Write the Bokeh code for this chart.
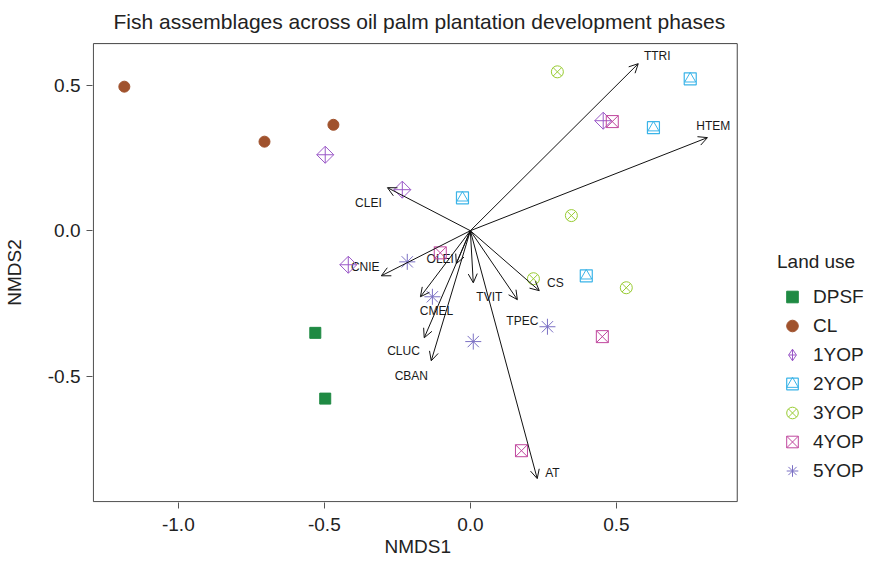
import math
from bokeh.plotting import figure
from bokeh.models import (ColumnDataSource, Arrow, OpenHead, Legend, LegendItem,
                          FixedTicker, Range1d, Title)
from bokeh.core.properties import value
from bokeh.embed import file_html
from bokeh.resources import INLINE

# ---------------- data ----------------
land_use = ["DPSF", "CL", "1YOP", "2YOP", "3YOP", "4YOP", "5YOP"]

dpsf_x = [-0.531, -0.497]
dpsf_y = [-0.351, -0.577]
cl_x = [-1.185, -0.705, -0.469]
cl_y = [0.495, 0.306, 0.364]
yop1_x = [-0.497, -0.233, -0.418, 0.455]
yop1_y = [0.261, 0.141, -0.117, 0.378]
yop2_x = [-0.027, 0.753, 0.627, 0.397]
yop2_y = [0.113, 0.522, 0.354, -0.155]
yop3_x = [0.298, 0.346, 0.216, 0.534]
yop3_y = [0.546, 0.052, -0.165, -0.196]
yop4_x = [0.486, -0.103, 0.452, 0.175]
yop4_y = [0.375, -0.076, -0.364, -0.756]
yop5_x = [-0.216, -0.130, 0.010, 0.264]
yop5_y = [-0.107, -0.227, -0.381, -0.330]

species = ["TTRI", "HTEM", "CLEI", "CNIE", "OLEI", "CMEL", "CLUC", "CBAN",
           "TVIT", "TPEC", "CS", "AT"]
vec_x = [0.575, 0.812, -0.284, -0.305, -0.048, -0.171, -0.158, -0.134,
         0.010, 0.161, 0.236, 0.229]
vec_y = [0.574, 0.320, 0.148, -0.155, -0.113, -0.227, -0.368, -0.447,
         -0.179, -0.237, -0.206, -0.852]
lab_x = [0.640, 0.832, -0.349, -0.360, -0.103, -0.116, -0.229, -0.202,
         0.065, 0.178, 0.291, 0.281]
lab_y = [0.601, 0.361, 0.096, -0.124, -0.096, -0.275, -0.412, -0.498,
         -0.227, -0.309, -0.179, -0.832]

x_ticks = [-1.0, -0.5, 0.0, 0.5]
x_tick_labels = ["-1.0", "-0.5", "0.0", "0.5"]
y_ticks = [-0.5, 0.0, 0.5]
y_tick_labels = ["-0.5", "0.0", "0.5"]

# plotting-region limits (the box drawn around the ordination)
box_x = (-1.291, 0.914)
box_y = (-0.931, 0.643)

# ---------------- styles ----------------
FONT = "Liberation Sans"
colors = {
    "DPSF": "#1f8a43",
    "CL": "#a0522d",
    "1YOP": "#9b59c8",
    "2YOP": "#3bb4e8",
    "3YOP": "#99cc33",
    "4YOP": "#c0479e",
    "5YOP": "#7b70c4",
}

# the frame extends to the right so that the legend can sit beside the box
p = figure(width=870, height=562,
           x_range=Range1d(-1.294, 1.3635), y_range=Range1d(-0.934, 0.6468),
           output_backend="svg", toolbar_location=None,
           min_border_left=92, min_border_right=2,
           min_border_top=42, min_border_bottom=60,
           title="Fish assemblages across oil palm plantation development phases",
           y_axis_label="NMDS2")

p.title.text_font = FONT
p.title.text_font_size = "21px"
p.title.text_font_style = "normal"
p.title.text_color = "#222222"
p.title.align = "left"
p.title.offset = 21
p.title.vertical_align = "top"
p.title.standoff = 16

p.xgrid.visible = False
p.ygrid.visible = False
p.outline_line_color = None
p.background_fill_color = "white"
p.border_fill_color = "white"

p.xaxis.ticker = FixedTicker(ticks=x_ticks)
p.xaxis.major_label_overrides = dict(zip(x_ticks, x_tick_labels))
p.yaxis.ticker = FixedTicker(ticks=y_ticks)
p.yaxis.major_label_overrides = dict(zip(y_ticks, y_tick_labels))
p.xaxis.bounds = box_x
p.yaxis.bounds = box_y

for ax in (p.xaxis[0], p.yaxis[0]):
    ax.axis_line_color = None
    ax.major_tick_out = 6
    ax.major_tick_in = 0
    ax.major_tick_line_color = "#555555"
    ax.minor_tick_line_color = None
    ax.major_label_text_font = FONT
    ax.major_label_text_font_size = "19px"
    ax.major_label_text_color = "#222222"
    ax.axis_label_text_font = FONT
    ax.axis_label_text_font_size = "19px"
    ax.axis_label_text_font_style = "normal"
    ax.axis_label_text_color = "#222222"

p.xaxis.major_label_standoff = 9
p.yaxis.major_label_standoff = 6
p.yaxis.axis_label_standoff = 20

# x-axis title, centred under the box (not under the wider frame)
x_title = Title(text="NMDS1", text_font=FONT, text_font_size="19px",
                text_font_style="normal", text_color="#222222",
                align="left", offset=292, vertical_align="bottom", standoff=0)
p.add_layout(x_title, "below")

# box around the ordination region
p.quad(left=[box_x[0]], right=[box_x[1]], bottom=[box_y[0]], top=[box_y[1]],
       fill_color=None, line_color="#444444", line_width=1)

# ---------------- envfit arrows ----------------
arrow_src = ColumnDataSource(dict(x0=[0.0] * len(species), y0=[0.0] * len(species),
                                  x1=vec_x, y1=vec_y))
p.add_layout(Arrow(end=OpenHead(size=9, line_width=1, line_color="#111111"),
                   x_start="x0", y_start="y0", x_end="x1", y_end="y1",
                   source=arrow_src, line_width=1, line_color="#111111"))

lab_src = ColumnDataSource(dict(x=lab_x, y=lab_y, t=species))
p.text(x="x", y="y", text="t", source=lab_src, text_font=value(FONT),
       text_font_size="12px", text_align="center", text_baseline="middle",
       text_color="#1a1a1a")

# ---------------- sites ----------------
r_dpsf = p.scatter(dpsf_x, dpsf_y, marker="square", size=11,
                   fill_color=colors["DPSF"], line_color=colors["DPSF"])
r_cl = p.scatter(cl_x, cl_y, marker="circle", size=11,
                 fill_color=colors["CL"], line_color=colors["CL"])
r_1 = p.scatter(yop1_x, yop1_y, marker="square_x", angle=math.pi / 4, size=12,
                fill_color=None, line_color=colors["1YOP"], line_width=1)
r_1_key = p.scatter(yop1_x, yop1_y, marker="diamond_cross", size=12,
                    fill_color=None, line_color=colors["1YOP"], line_width=1,
                    visible=False)
r_2a = p.scatter(yop2_x, yop2_y, marker="square", size=12,
                 fill_color=None, line_color=colors["2YOP"], line_width=1.2)
r_2b = p.scatter(yop2_x, yop2_y, marker="triangle", size=11,
                 fill_color=None, line_color=colors["2YOP"], line_width=1)
r_3 = p.scatter(yop3_x, yop3_y, marker="circle_x", size=12,
                fill_color=None, line_color=colors["3YOP"], line_width=1)
r_4 = p.scatter(yop4_x, yop4_y, marker="square_x", size=12,
                fill_color=None, line_color=colors["4YOP"], line_width=1)
r_5 = p.scatter(yop5_x, yop5_y, marker="asterisk", size=16,
                fill_color=None, line_color=colors["5YOP"], line_width=1)

legend = Legend(
    items=[
        LegendItem(label=land_use[0], renderers=[r_dpsf]),
        LegendItem(label=land_use[1], renderers=[r_cl]),
        LegendItem(label=land_use[2], renderers=[r_1_key]),
        LegendItem(label=land_use[3], renderers=[r_2a, r_2b]),
        LegendItem(label=land_use[4], renderers=[r_3]),
        LegendItem(label=land_use[5], renderers=[r_4]),
        LegendItem(label=land_use[6], renderers=[r_5]),
    ],
    title="Land use", location=(685, 17),
    glyph_width=30, glyph_height=29, label_height=29, spacing=0,
    label_standoff=6, padding=0, margin=0,
    border_line_color=None, background_fill_alpha=0,
    inactive_fill_alpha=0,
    label_text_font=FONT, label_text_font_size="19px", label_text_color="#222222",
    title_text_font=FONT, title_text_font_size="19px", title_text_font_style="normal",
    title_text_color="#222222", title_standoff=9,
)
p.add_layout(legend, "center")

open("out.html", "w").write(file_html(p, INLINE))
